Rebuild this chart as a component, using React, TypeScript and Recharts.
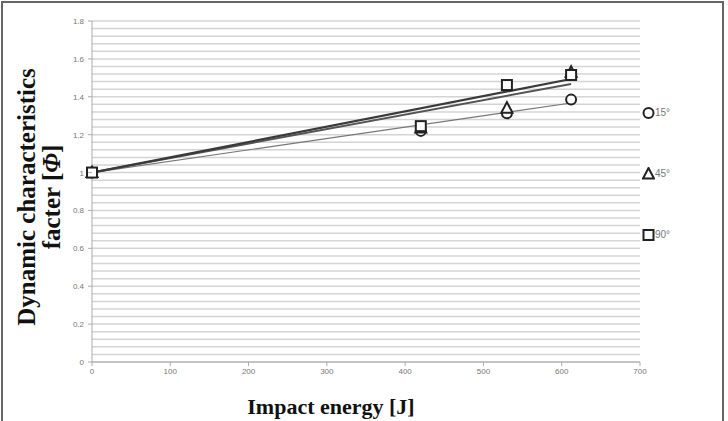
import React from "react";
import {
  ComposedChart,
  Line,
  Scatter,
  XAxis,
  YAxis,
  CartesianGrid,
} from "recharts";

// measured points (impact energy in J, dynamic factor)
const energy = [0, 420, 530, 612];
const phi15 = [1.0, 1.22, 1.313, 1.385];
const phi45 = [1.0, 1.235, 1.34, 1.53];
const phi90 = [1.0, 1.245, 1.462, 1.515];

// trend line end points
const trendEnergy = [0, 612];
const trend15 = [1.0, 1.367];
const trend45 = [1.0, 1.468];
const trend90 = [1.0, 1.494];

const xTicks = [0, 100, 200, 300, 400, 500, 600, 700];
const yLabels = [0, 0.2, 0.4, 0.6, 0.8, 1, 1.2, 1.4, 1.6, 1.8];
const yGrid = Array.from({ length: 46 }, (_, i) => +(i * 0.04).toFixed(2));

const toPoints = (xs: number[], ys: number[]) =>
  xs.map((x, i) => ({ x, y: ys[i] }));

const seriesNames = ["15°", "45°", "90°"];

const Marker = ({ kind, cx, cy }: { kind: string; cx: number; cy: number }) => {
  if (kind === "circle")
    return <circle cx={cx} cy={cy} r={5} fill="#fff" stroke="#222" strokeWidth={2} />;
  if (kind === "triangle")
    return (
      <polygon
        points={`${cx},${cy - 6} ${cx + 5.5},${cy + 4.5} ${cx - 5.5},${cy + 4.5}`}
        fill="#fff"
        stroke="#222"
        strokeWidth={2}
      />
    );
  return <rect x={cx - 5} y={cy - 5} width={10} height={10} fill="#fff" stroke="#222" strokeWidth={2} />;
};

const YTick = (props: any) => {
  const { x, y, payload } = props;
  const v = payload.value;
  const major = yLabels.some((l) => Math.abs(l - v) < 1e-6);
  if (!major) return null;
  return (
    <g>
      <line x1={x + 4} x2={x + 8} y1={y} y2={y} stroke="#aaa" />
      <text x={x} y={y} dy={3} textAnchor="end" fontSize={8} fill="#777" fontFamily="Liberation Sans, sans-serif">
        {String(v)}
      </text>
    </g>
  );
};

const YTitle = () => (
  <g fontFamily="Liberation Serif, serif" fontWeight="bold" fontSize={25} fill="#111">
    <text transform="translate(35,197) rotate(-90)" textAnchor="middle">
      Dynamic characteristics
    </text>
    <text transform="translate(60,197) rotate(-90)" textAnchor="middle">
      facter [<tspan fontStyle="italic">Φ</tspan>]
    </text>
  </g>
);

const XTitle = () => (
  <text x={331} y={414} textAnchor="middle" fontFamily="Liberation Serif, serif" fontWeight="bold" fontSize={22} fill="#111">
    Impact energy [J]
  </text>
);

const LegendBox = () => (
  <div
    style={{
      position: "absolute",
      left: 642,
      top: 106,
      fontFamily: "Liberation Sans, sans-serif",
      fontSize: 10,
      color: "#777",
    }}
  >
    {["circle", "triangle", "square"].map((k, i) => (
      <div key={k} style={{ height: 61, display: "flex", alignItems: "flex-start" }}>
        <svg width={13} height={14}>
          <Marker kind={k} cx={6.5} cy={7} />
        </svg>
        <span style={{ lineHeight: "14px" }}>{seriesNames[i]}</span>
      </div>
    ))}
  </div>
);

export default function App() {
  return (
    <div style={{ position: "absolute", left: 0, top: 0, width: 728, height: 421, background: "#fff" }}>
      <div
        style={{
          position: "absolute",
          left: 1,
          top: 1,
          width: 723,
          height: 420,
          borderTop: "2px solid #666",
          borderLeft: "2px solid #666",
          borderRight: "2px solid #666",
          boxSizing: "border-box",
          pointerEvents: "none",
          zIndex: 2,
        }}
      />
      <ComposedChart width={728} height={421} margin={{ top: 21, right: 88, left: 52, bottom: 29 }}>
        <CartesianGrid horizontal vertical={false} stroke="#d4d4d4" strokeWidth={1.5} />
        <XAxis
          type="number"
          dataKey="x"
          domain={[0, 700]}
          ticks={xTicks}
          height={30}
          stroke="#aaa"
          tickSize={4}
          tick={{ fontSize: 8, fill: "#777", fontFamily: "Liberation Sans, sans-serif" }}
          label={<XTitle />}
        />
        <YAxis
          type="number"
          dataKey="y"
          domain={[0, 1.8]}
          ticks={yGrid}
          interval={0}
          width={40}
          stroke="#aaa"
          tickLine={false}
          tickSize={4}
          tickMargin={4}
          tick={<YTick />}
          label={<YTitle />}
        />
        <Line data={toPoints(trendEnergy, trend15)} dataKey="y" stroke="#777" strokeWidth={1.2} dot={false} isAnimationActive={false} />
        <Line data={toPoints(trendEnergy, trend45)} dataKey="y" stroke="#555" strokeWidth={2} dot={false} isAnimationActive={false} />
        <Line data={toPoints(trendEnergy, trend90)} dataKey="y" stroke="#3a3a3a" strokeWidth={2.2} dot={false} isAnimationActive={false} />
        <Scatter name="15°" data={toPoints(energy, phi15)} shape={(p: any) => <Marker kind="circle" cx={p.cx} cy={p.cy} />} isAnimationActive={false} />
        <Scatter name="45°" data={toPoints(energy, phi45)} shape={(p: any) => <Marker kind="triangle" cx={p.cx} cy={p.cy} />} isAnimationActive={false} />
        <Scatter name="90°" data={toPoints(energy, phi90)} shape={(p: any) => <Marker kind="square" cx={p.cx} cy={p.cy} />} isAnimationActive={false} />
      </ComposedChart>
      <LegendBox />
    </div>
  );
}
